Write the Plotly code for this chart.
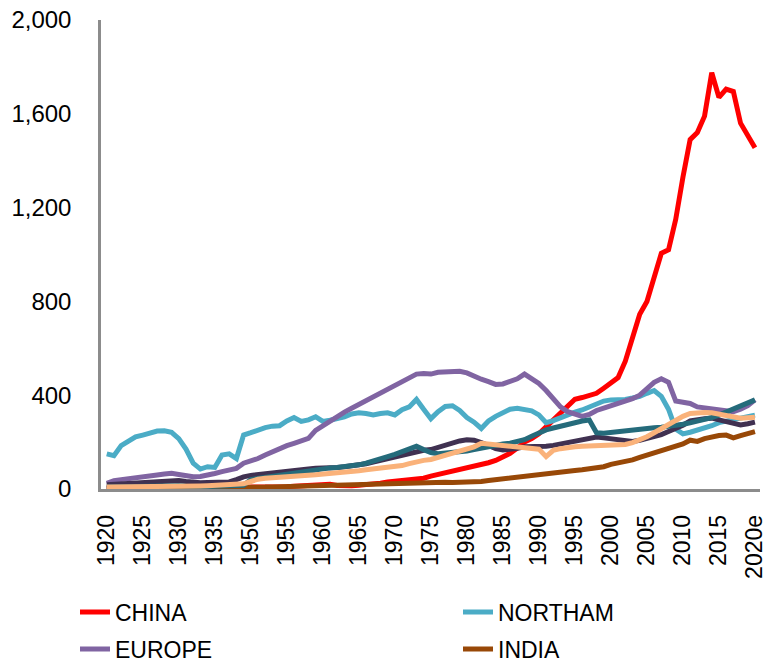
import plotly.graph_objects as go

# Categories: 1920-1939, then 1950-2019, then 2020e
years = [str(y) for y in range(1920, 1940)] + [str(y) for y in range(1950, 2020)] + ["2020e"]
tick_labels = ["1920", "1925", "1930", "1935", "1950", "1955", "1960", "1965", "1970", "1975",
               "1980", "1985", "1990", "1995", "2000", "2005", "2010", "2015", "2020e"]

china = [3, 2, 3, 4, 4, 5, 5, 5, 5, 5, 5, 5, 5, 5, 6, 7, 8, 8, 8, 8,
         5, 6, 7, 8, 9, 10, 12, 14, 16, 18, 22, 20, 15, 13, 14, 16, 18, 22, 25, 30,
         33, 36, 40, 42, 46, 55, 62, 72, 78, 86, 92, 96, 102, 112, 122, 135, 152, 175, 200, 215,
         235, 265, 295, 330, 360, 383, 390, 398, 408, 430, 455, 475, 545, 650, 745, 800, 900, 1005, 1020, 1150,
         1330, 1490, 1520, 1590, 1775, 1670, 1705, 1695, 1560, 1510, 1455]

northam = [150, 142, 185, 205, 222, 230, 237, 247, 248, 242, 215, 170, 110, 85, 95, 92, 145, 150, 130, 230,
           240, 252, 262, 268, 270, 290, 305, 288, 295, 308, 288, 293, 300, 308, 320, 325, 322, 316, 322, 325,
           316, 338, 350, 382, 340, 300, 330, 352, 355, 335, 305, 285, 258, 290, 310, 328, 340, 344, 340, 333,
           316, 283, 292, 305, 316, 328, 337, 350, 365, 375, 380, 380, 382, 388, 395, 408, 420, 395, 340, 255,
           235, 242, 250, 262, 270, 283, 290, 294, 300, 308, 315]

europe = [24, 35, 40, 45, 50, 53, 57, 60, 64, 67, 62, 57, 52, 53, 58, 66, 74, 80, 88, 110,
          118, 130, 145, 160, 174, 185, 195, 205, 216, 250, 270, 292, 310, 328, 344, 360, 378, 395, 412, 425,
          440, 455, 470, 490, 492, 490, 498, 500, 505, 502, 495, 480, 468, 458, 446, 448, 458, 470, 490, 470,
          450, 420, 385, 350, 330, 318, 310, 318, 335, 345, 355, 362, 370, 385, 400, 425, 455, 470, 455, 375,
          372, 365, 350, 345, 345, 340, 335, 330, 340, 355, 380]

india = [3, 3, 3, 3, 4, 4, 4, 4, 4, 4, 4, 4, 4, 4, 4, 5, 5, 5, 5, 5,
         6, 7, 8, 9, 10, 11, 12, 13, 14, 15, 16, 17, 18, 19, 20, 21, 22, 22, 23, 24,
         25, 26, 27, 28, 29, 30, 30, 29, 28, 28, 28, 29, 32, 36, 40, 44, 48, 52, 56, 60,
         64, 66, 69, 72, 75, 79, 82, 86, 88, 95, 105, 110, 115, 124, 135, 145, 155, 166, 172, 182,
         192, 208, 203, 215, 222, 228, 230, 218, 228, 238, 245]

other_a = [18, 20, 22, 24, 26, 28, 30, 33, 36, 38, 36, 32, 28, 27, 28, 30, 32, 30, 40, 52,
           58, 62, 66, 70, 73, 76, 79, 82, 85, 88, 88, 90, 92, 95, 98, 102, 108, 115, 122, 130,
           138, 145, 152, 160, 165, 168, 178, 188, 198, 205, 210, 208, 198, 182, 172, 166, 168, 174, 180, 180,
           180, 182, 186, 192, 198, 202, 208, 215, 222, 218, 214, 209, 205, 203, 208, 216, 223, 232, 245, 258,
           272, 290, 296, 300, 302, 295, 285, 278, 273, 278, 285]

other_b = [8, 9, 10, 11, 12, 13, 14, 15, 16, 16, 14, 12, 10, 10, 11, 12, 13, 13, 14, 16,
           40, 45, 50, 55, 60, 65, 70, 75, 80, 85, 88, 90, 92, 95, 98, 103, 110, 118, 128, 138,
           148, 158, 168, 182, 168, 155, 150, 152, 155, 158, 162, 168, 175, 182, 188, 192, 195, 202, 210, 225,
           240, 252, 260, 268, 275, 285, 290, 294, 240, 238, 242, 245, 249, 253, 257, 259, 261, 263, 266, 270,
           276, 282, 288, 296, 305, 315, 328, 342, 355, 368, 380]

other_c = [8, 8, 9, 9, 10, 10, 11, 11, 12, 12, 12, 12, 12, 13, 14, 15, 16, 17, 18, 22,
           32, 42, 46, 49, 51, 53, 55, 57, 59, 61, 63, 66, 69, 72, 75, 78, 82, 85, 88, 91,
           95, 100, 108, 116, 122, 126, 135, 145, 150, 158, 168, 180, 195, 192, 188, 184, 180, 178, 175, 172,
           170, 138, 165, 172, 178, 180, 182, 183, 183, 183, 183, 185, 190, 198, 210, 223, 240, 259, 276, 294,
           310, 322, 325, 326, 325, 320, 316, 310, 302, 304, 306]

series = [
    ("CHINA", china, "#FF0000", True, "legend"),
    ("NORTHAM", northam, "#4BACC6", True, "legend2"),
    ("EUROPE", europe, "#8064A2", True, "legend3"),
    ("INDIA", india, "#984807", True, "legend4"),
    ("CIS", other_a, "#403151", False, "legend"),
    ("OTHER ASIA", other_b, "#256B7B", False, "legend"),
    ("REST OF WORLD", other_c, "#FAB27A", False, "legend"),
]

fig = go.Figure()
for name, vals, color, show, lg in series:
    fig.add_trace(go.Scatter(x=years, y=vals, name=name, mode="lines",
                             line=dict(color=color, width=5),
                             showlegend=show, legend=lg))

font_family = "Liberation Sans, Arial, sans-serif"
legend_common = dict(orientation="h", xref="container", yref="container",
                     xanchor="left", yanchor="middle",
                     font=dict(family=font_family, size=23, color="#000000"),
                     bgcolor="rgba(0,0,0,0)")

row1 = 1 - 612 / 663
row2 = 1 - 649 / 663
col1 = 75 / 768
col2 = 458 / 768

fig.update_layout(
    width=768, height=663,
    margin=dict(l=101, r=8, t=20, b=174, autoexpand=False),
    paper_bgcolor="white", plot_bgcolor="white",
    font=dict(family=font_family, size=23, color="#000000"),
    showlegend=True,
    legend=dict(x=col1, y=row1, **legend_common),
    legend2=dict(x=col2, y=row1, **legend_common),
    legend3=dict(x=col1, y=row2, **legend_common),
    legend4=dict(x=col2, y=row2, **legend_common),
)

fig.update_xaxes(type="category", categoryorder="array", categoryarray=years,
                 tickmode="array", tickvals=tick_labels, ticktext=tick_labels,
                 tickangle=-90, range=[-0.8, 90.7],
                 showline=True, linecolor="#8C8C8C", linewidth=2.5,
                 showgrid=False, zeroline=False, ticks="",
                 ticklabelstandoff=14,
                 tickfont=dict(family=font_family, size=23, color="#000000"))

fig.update_yaxes(range=[0, 2000], tickmode="array",
                 tickvals=[0, 400, 800, 1200, 1600, 2000],
                 tickformat=",", showline=True, linecolor="#8C8C8C", linewidth=2.5,
                 showgrid=False, zeroline=False, ticks="",
                 ticklabelstandoff=22,
                 tickfont=dict(family=font_family, size=24, color="#000000"))

fig.write_html("out.html", config={"displayModeBar": False},
               post_script="document.body.style.margin='0';")
